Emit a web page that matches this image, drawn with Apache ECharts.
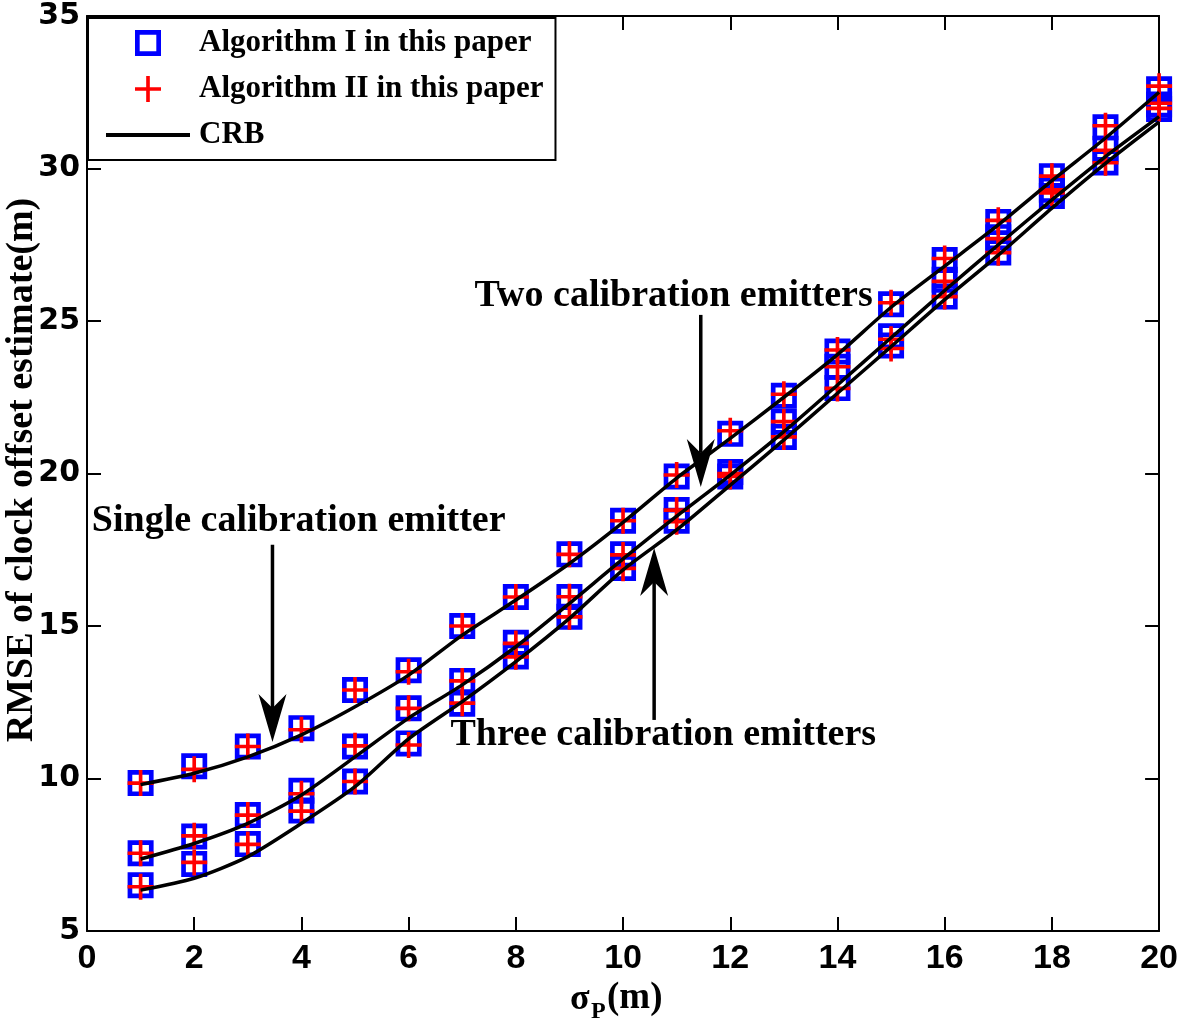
<!DOCTYPE html>
<html><head><meta charset="utf-8">
<script src="https://cdn.jsdelivr.net/npm/echarts@6/dist/echarts.min.js"></script>
<style>html,body{margin:0;padding:0;background:#fff;overflow:hidden}#c{width:1181px;height:1031px}</style>
</head><body><div id="c"></div>
<script>
// ---------------- data ----------------
const sigmaP = [1,2,3,4,5,6,7,8,9,10,11,12,13,14,15,16,17,18,19,20];

// Single calibration emitter
const algISingle  = [9.85,10.4,11.05,11.65,12.9,13.55,15.0,15.95,17.35,18.45,19.9,21.3,22.55,24.0,25.55,27.0,28.25,29.75,31.35,32.6];
const algIISingle = [9.85,10.3,11.05,11.6,12.9,13.5,15.0,15.95,17.35,18.45,19.95,21.4,22.6,24.05,25.6,27.05,28.3,29.75,31.4,32.7];
const crbSingle   = [9.8,10.17,10.71,11.43,12.35,13.39,14.7,15.85,17.05,18.4,19.85,21.15,22.5,23.9,25.45,26.8,28.15,29.6,31.0,32.5];

// Two calibration emitters
const algITwo  = [7.55,8.1,8.8,9.6,11.05,12.3,13.2,14.45,15.95,17.35,18.8,20.05,21.7,23.5,24.5,26.35,27.75,29.3,30.65,32.1];
const algIITwo = [7.55,8.12,8.8,9.5,11.07,12.3,13.2,14.43,15.96,17.33,18.8,20.0,21.7,23.5,24.4,26.3,27.7,29.3,30.6,32.14];
const crbTwo   = [7.36,7.87,8.53,9.46,10.71,11.98,13.07,14.32,15.74,17.2,18.6,19.95,21.37,22.9,24.45,26.0,27.5,28.97,30.39,31.7];

// Three calibration emitters
const algIThree  = [6.5,7.2,7.85,8.95,9.9,11.15,12.45,14.0,15.3,16.9,18.45,19.9,21.2,22.8,24.2,25.8,27.25,29.1,30.2,31.95];
const algIIThree = [6.45,7.25,7.84,8.93,9.9,11.1,12.47,13.99,15.3,16.89,18.42,19.9,21.2,22.79,24.1,25.8,27.24,29.2,30.19,31.97];
const crbThree   = [6.34,6.73,7.44,8.53,9.73,11.3,12.52,13.83,15.25,16.84,18.15,19.62,21.1,22.63,24.16,25.7,27.16,28.7,30.17,31.53];

const legendNames = ['Algorithm I in this paper','Algorithm II in this paper','CRB'];

// annotations (data coordinates)
const annoTexts = [
  {text:'Single calibration emitter', x:0.09, y:18.38},
  {text:'Two calibration emitters',   x:7.23, y:25.75},
  {text:'Three calibration emitters', x:6.78, y:11.36}
];
const annoArrows = [
  {x:3.46,  from:17.66, to:11.2},
  {x:11.45, from:25.2,  to:19.56},
  {x:10.58, from:11.92, to:17.56}
];

// ---------------- chart ----------------
const SQUARE = 'path://M0,0H20V20H0Z M3.6,3.6V16.4H16.4V3.6Z';
const PLUS = 'path://M8.6,0H11.4V8.6H20V11.4H11.4V20H8.6V11.4H0V8.6H8.6Z';
const LINEICON = 'path://M0,0H84V4H0Z';
const SERIF = "'Liberation Serif','Times New Roman',serif";

function pts(ys){ return sigmaP.map((x,i)=>[x, ys[i]]); }

const chart = echarts.init(document.getElementById('c'), null, {renderer:'canvas', width:1181, height:1031});

function sq(ys){ return {name:legendNames[0], type:'scatter', data:pts(ys), symbol:SQUARE, symbolSize:26,
  itemStyle:{color:'#0000ff', opacity:1}, z:2, silent:true}; }
function pl(ys){ return {name:legendNames[1], type:'scatter', data:pts(ys), symbol:PLUS, symbolSize:26,
  itemStyle:{color:'#ff0000', opacity:1}, z:3, silent:true}; }
function crb(ys){ return {name:legendNames[2], type:'line', data:pts(ys), symbol:'none', showSymbol:false,
  smooth:0.25, lineStyle:{color:'#000', width:3.5}, itemStyle:{color:'#000'}, z:4, silent:true}; }

const axisCommon = {
  axisLine:{show:true, onZero:false, lineStyle:{color:'#000', width:2}},
  axisTick:{show:true, inside:true, length:14, lineStyle:{color:'#000', width:2}},
  splitLine:{show:false}
};

chart.setOption({
  animation:false,
  backgroundColor:'#fff',
  grid:{left:87, right:18, top:16, bottom:100, containLabel:false},
  xAxis:[
    Object.assign({type:'value', position:'bottom', min:0, max:20, interval:2,
      axisLabel:{show:true, color:'#000', fontFamily:"'Liberation Sans',Arial,sans-serif",
        fontWeight:'bold', fontSize:34, margin:11}}, axisCommon),
    Object.assign({type:'value', position:'top', min:0, max:20, interval:2, axisLabel:{show:false}}, axisCommon)
  ],
  yAxis:[
    Object.assign({type:'value', position:'left', min:5, max:35, interval:5,
      axisLabel:{show:true, color:'#000', fontFamily:"'DejaVu Sans',sans-serif", fontWeight:'bold', fontSize:30, margin:7}}, axisCommon),
    Object.assign({type:'value', position:'right', min:5, max:35, interval:5, axisLabel:{show:false}}, axisCommon)
  ],
  legend:{
    data:[{name:legendNames[0], icon:SQUARE},{name:legendNames[1], icon:PLUS},{name:legendNames[2], icon:LINEICON}],
    orient:'vertical', left:88, top:18,
    padding:[8,12,8,18], itemGap:12, itemWidth:84, itemHeight:26,
    borderColor:'#000', borderWidth:2, backgroundColor:'#fff',
    selectedMode:false,
    textStyle:{fontFamily:SERIF, fontWeight:'bold', fontSize:31, color:'#000', lineHeight:34, padding:[0,0,0,4]},
    z:10
  },
  series:[
    sq(algISingle), sq(algITwo), sq(algIThree),
    pl(algIISingle), pl(algIITwo), pl(algIIThree),
    crb(crbSingle), crb(crbTwo), crb(crbThree)
  ]
});

// annotations, axis titles
function buildGraphic(){
  const g = [];
  annoTexts.forEach(a=>{
    const p = chart.convertToPixel({gridIndex:0},[a.x,a.y]);
    g.push({type:'text', left:p[0], top:p[1]-21, z:20, silent:true,
      style:{text:a.text, fill:'#000', font:"bold 38px "+SERIF, textVerticalAlign:'top'}});
  });
  annoArrows.forEach(a=>{
    const p0 = chart.convertToPixel({gridIndex:0},[a.x,a.from]);
    const p1 = chart.convertToPixel({gridIndex:0},[a.x,a.to]);
    const dir = p1[1] > p0[1] ? 1 : -1;
    const L = 48, W = 14, back = 34;
    g.push({type:'line', z:20, silent:true,
      shape:{x1:p0[0], y1:p0[1], x2:p1[0], y2:p1[1]-dir*back},
      style:{stroke:'#000', lineWidth:3.5}});
    g.push({type:'polygon', z:20, silent:true,
      shape:{points:[[p1[0],p1[1]],[p1[0]-W,p1[1]-dir*L],[p1[0],p1[1]-dir*back],[p1[0]+W,p1[1]-dir*L]]},
      style:{fill:'#000'}});
  });
  // y-axis title
  g.push({type:'text', x:22, y:470, rotation:Math.PI/2, z:20, silent:true,
    style:{text:'RMSE of clock offset estimate(m)', fill:'#000', font:"bold 38px "+SERIF,
      textAlign:'center', textVerticalAlign:'middle'}});
  // x-axis title: sigma_P(m)
  g.push({type:'text', x:570, y:1000, z:20, silent:true,
    style:{text:'σ', fill:'#000', font:"bold 36px "+SERIF, textAlign:'left', textVerticalAlign:'middle'}});
  g.push({type:'text', x:591, y:1012, z:20, silent:true,
    style:{text:'P', fill:'#000', font:"bold 24px "+SERIF, textAlign:'left', textVerticalAlign:'middle'}});
  g.push({type:'text', x:607, y:998, z:20, silent:true,
    style:{text:'(m)', fill:'#000', font:"bold 37px "+SERIF, textAlign:'left', textVerticalAlign:'middle'}});
  chart.setOption({graphic:g});
}
buildGraphic();
</script>
</body></html>
